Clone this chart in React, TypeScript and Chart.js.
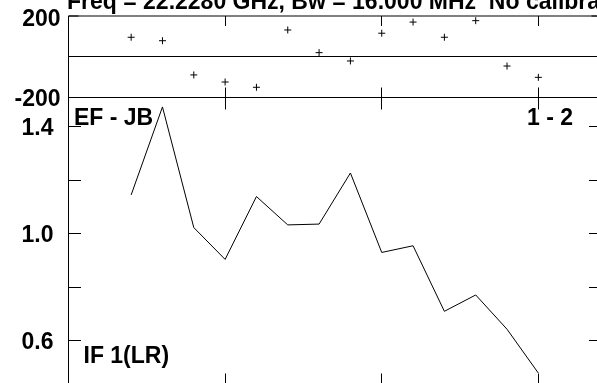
import React, { useEffect, useRef } from 'react';
import { Chart, registerables } from 'chart.js';

Chart.register(...registerables);

// ---- data ----
const scans = [1, 2, 3, 4, 5, 6, 7, 8, 9, 10, 11, 12, 13, 14];
const phaseDeg = [95, 78, -91, -126, -152, 131, 19, -22, 115, 170, 95, 177, -47, -103];
const amplitude = [1.146, 1.475, 1.024, 0.905, 1.14, 1.034, 1.037, 1.228, 0.931, 0.956, 0.711, 0.772, 0.644, 0.48];
const xTickValues = [4, 9, 14];
const phaseTickValues = [-200, 200];
const phaseTickLabels = ['-200', '200'];
const ampTickValues = [0.6, 0.8, 1.0, 1.2, 1.4];
const ampTickLabels = ['0.6', '', '1.0', '', '1.4'];
const titleText = 'Freq = 22.2280 GHz, Bw = 16.000 MHz  No calibration';
const baselineLabel = 'EF - JB';
const pairLabel = '1 - 2';
const ifLabel = 'IF 1(LR)';

const FONT = 'bold 23px "Liberation Sans", Arial, sans-serif';

const crisp = (v: number) => Math.floor(v) + 0.5;

const framePlugin = {
  id: 'frameDecor',
  afterDatasetsDraw(chart: any) {
    const ctx: CanvasRenderingContext2D = chart.ctx;
    const area = chart.chartArea;
    const xs = chart.scales.x;
    const ph = chart.scales.phase;
    const am = chart.scales.amp;
    const L = crisp(area.left);
    const R = crisp(area.right);
    const phTop = ph.getPixelForValue(200);
    const phBot = crisp(ph.getPixelForValue(-200));
    const amTop = phBot;
    const amBot = crisp(am.bottom);

    ctx.save();
    ctx.strokeStyle = '#000';
    ctx.lineWidth = 1;
    const line = (x1: number, y1: number, x2: number, y2: number) => {
      ctx.beginPath();
      ctx.moveTo(x1, y1);
      ctx.lineTo(x2, y2);
      ctx.stroke();
    };
    // frame
    line(L, phTop, L, amBot);
    line(R, phTop, R, amBot);
    line(L, phTop, R, phTop);
    line(L, crisp(ph.getPixelForValue(0)), R, crisp(ph.getPixelForValue(0)));
    line(L, phBot, R, phBot);
    line(L, amBot, R, amBot);

    // x ticks
    xTickValues.forEach((v) => {
      const px = crisp(xs.getPixelForValue(v));
      line(px, phTop, px, phTop + 10);
      line(px, phBot - 10, px, phBot);
      line(px, amTop, px, amTop + 12);
      line(px, amBot - 12, px, amBot);
    });
    // phase ticks
    phaseTickValues.forEach((v) => {
      const py = v === 200 ? phTop : crisp(ph.getPixelForValue(v));
      line(L, py, L + 10, py);
      line(R - 10, py, R, py);
    });
    // amp ticks
    ampTickValues.forEach((v) => {
      const py = crisp(am.getPixelForValue(v));
      line(L, py, L + 12.5, py);
      line(R - 12.5, py, R, py);
    });

    // labels
    ctx.fillStyle = '#000';
    ctx.font = FONT;
    ctx.textBaseline = 'alphabetic';
    ctx.textAlign = 'right';
    phaseTickValues.forEach((v, i) => {
      const py = ph.getPixelForValue(v);
      ctx.fillText(phaseTickLabels[i], area.left - 8, Math.max(py + 8.5, 26));
    });
    ampTickValues.forEach((v, i) => {
      if (!ampTickLabels[i]) return;
      const py = am.getPixelForValue(v);
      ctx.fillText(ampTickLabels[i], area.left - 15, py + 8.5);
    });

    ctx.textAlign = 'left';
    ctx.fillText(baselineLabel, area.left + 5.5, amTop + 27);
    ctx.fillText(ifLabel, area.left + 15, am.bottom - 22);
    ctx.textAlign = 'right';
    ctx.fillText(pairLabel, area.right - 28, amTop + 27);

    ctx.textAlign = 'left';
    ctx.fillText(titleText, area.left - 1.5, 9);
    ctx.restore();
  },
};

export default function App() {
  const canvasRef = useRef<HTMLCanvasElement | null>(null);

  useEffect(() => {
    const canvas = canvasRef.current;
    if (!canvas) return;
    const chart = new Chart(canvas, {
      type: 'line',
      data: {
        datasets: [
          {
            label: 'phase',
            data: scans.map((s, i) => ({ x: s, y: phaseDeg[i] })),
            xAxisID: 'x',
            yAxisID: 'phase',
            showLine: false,
            pointStyle: 'cross',
            pointRadius: 3.5,
            pointBorderWidth: 1,
            pointBorderColor: '#000',
            borderColor: '#000',
            borderWidth: 1,
          },
          {
            label: 'amp',
            data: scans.map((s, i) => ({ x: s, y: amplitude[i] })),
            xAxisID: 'x',
            yAxisID: 'amp',
            borderColor: '#000',
            borderWidth: 1,
            pointRadius: 0,
            tension: 0,
            fill: false,
          },
        ],
      },
      options: {
        responsive: false,
        animation: false,
        devicePixelRatio: 1,
        events: [],
        layout: { padding: { left: 68.5, top: 16, right: 19, bottom: 15 } },
        plugins: {
          legend: { display: false },
          tooltip: { enabled: false },
          title: { display: false },
        },
        scales: {
          x: { type: 'linear', min: -1, max: 16, display: false },
          amp: {
            type: 'linear',
            position: 'left',
            stack: 'panels',
            stackWeight: 288,
            min: 0.4355,
            max: 1.5121,
            display: false,
          },
          phase: {
            type: 'linear',
            position: 'left',
            stack: 'panels',
            stackWeight: 81,
            min: -200,
            max: 200,
            display: false,
          },
        },
      },
      plugins: [framePlugin],
    } as any);
    return () => chart.destroy();
  }, []);

  return (
    <div
      style={{
        position: 'fixed',
        left: 0,
        top: 0,
        width: 597,
        height: 383,
        overflow: 'hidden',
        background: '#fff',
      }}
    >
      <canvas
        ref={canvasRef}
        width={620}
        height={400}
        style={{ position: 'absolute', left: 0, top: 0, width: 620, height: 400 }}
      />
    </div>
  );
}
